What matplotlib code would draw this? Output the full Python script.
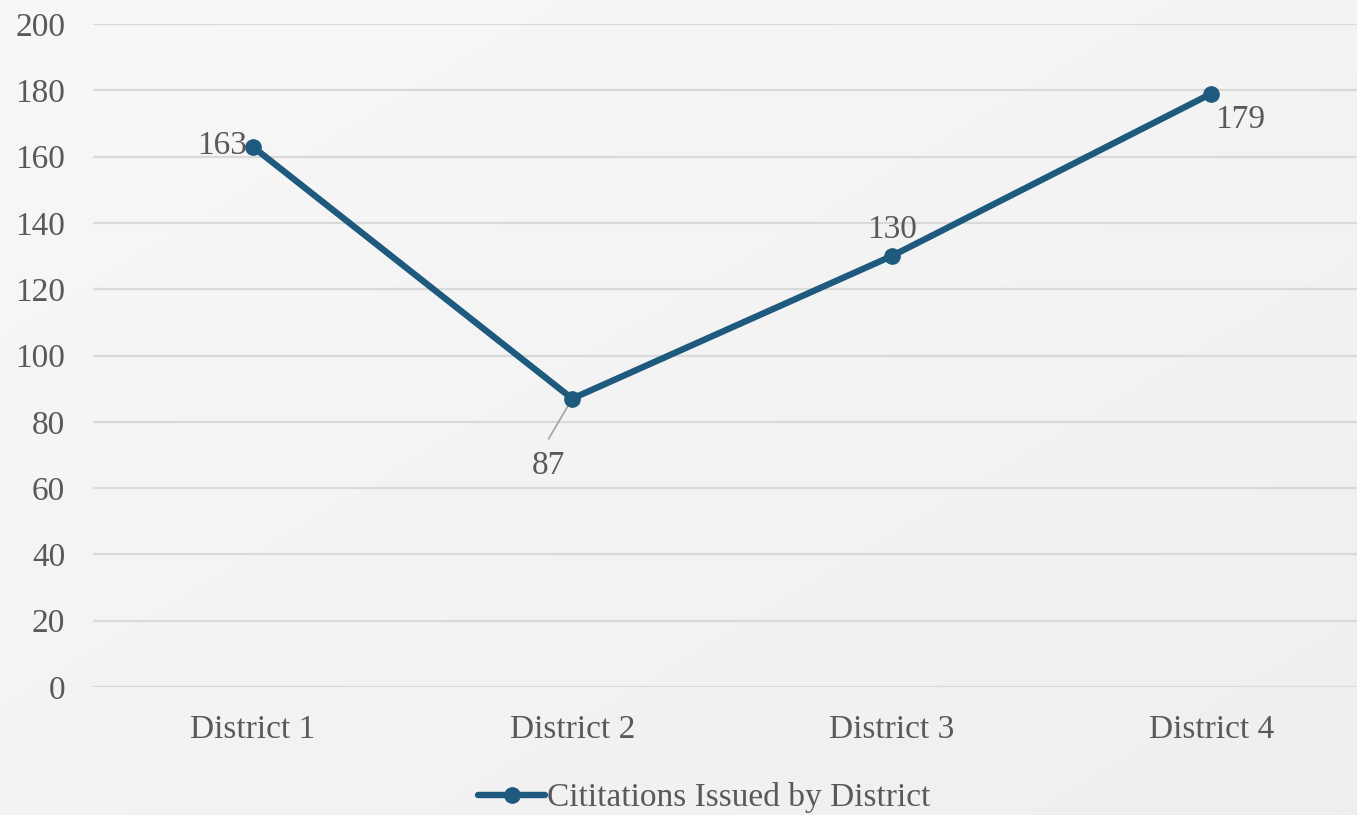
import matplotlib
matplotlib.use("Agg")
import matplotlib.pyplot as plt
import numpy as np

districts = ["District 1", "District 2", "District 3", "District 4"]
citations = [163, 87, 130, 179]
series_name = "Cititations Issued by District"

line_color = "#1d5a7e"
text_color = "#595959"

plt.rcParams["font.family"] = ["Liberation Serif", "DejaVu Serif"]

fig = plt.figure(figsize=(13.57, 8.15), dpi=100)
fig.patch.set_facecolor("#f0f0f0")

# soft background gradient, light top-left to slightly darker bottom-right
bg = fig.add_axes([0, 0, 1, 1], zorder=-10)
gy, gx = np.mgrid[0:1:200j, 0:1:200j]
shade = 0.972 - 0.035 * (0.5 * gx + 0.5 * (1 - gy))
img = np.dstack([shade, shade, shade])
bg.imshow(img, aspect="auto", extent=[0, 1, 0, 1], origin="lower")
bg.axis("off")

ax = fig.add_axes([0.0685, 0.157, 0.9418, 0.8135])
ax.set_facecolor("none")

x = np.arange(len(districts))
ax.plot(x, citations, color=line_color, linewidth=4.6, marker="o",
        markersize=11, solid_capstyle="round", label=series_name, zorder=3)

ax.set_xlim(-0.5, len(districts) - 0.5)
ax.set_ylim(0, 200)
ax.set_yticks(range(0, 201, 20))
ax.set_xticks(x)
ax.set_xticklabels(districts)
ax.tick_params(axis="both", length=0, labelsize=24, labelcolor=text_color)
ax.tick_params(axis="x", pad=20)
ax.tick_params(axis="y", pad=20)
ax.grid(axis="y", color="#d9d9d9", linewidth=1.6)
for s in ax.spines.values():
    s.set_visible(False)

# data labels
fs = 24
ax.annotate(str(citations[0]), (x[0], citations[0]), xytext=(-4, 1),
            textcoords="offset points", ha="right", va="center",
            fontsize=fs, color=text_color)
ax.annotate(str(citations[1]), (x[1], citations[1]), xytext=(-17, -48),
            textcoords="offset points", ha="center", va="center",
            fontsize=fs, color=text_color)
# leader line for the moved label
ax.annotate("", (x[1], citations[1]), xytext=(-17, -29),
            textcoords="offset points",
            arrowprops=dict(arrowstyle="-", color="#a6a6a6", lw=1.3,
                            shrinkA=0, shrinkB=0), zorder=2)
ax.annotate(str(citations[2]), (x[2], citations[2]), xytext=(0, 19),
            textcoords="offset points", ha="center", va="center",
            fontsize=fs, color=text_color)
ax.annotate(str(citations[3]), (x[3], citations[3]), xytext=(21, -19),
            textcoords="offset points", ha="center", va="center",
            fontsize=fs, color=text_color)

leg = fig.legend(loc="center", bbox_to_anchor=(0.519, 0.021), frameon=False,
                 fontsize=24, handlelength=2.0, handletextpad=0.05)
for t in leg.get_texts():
    t.set_color(text_color)

fig.savefig("out.png", dpi=100, facecolor=fig.get_facecolor())
